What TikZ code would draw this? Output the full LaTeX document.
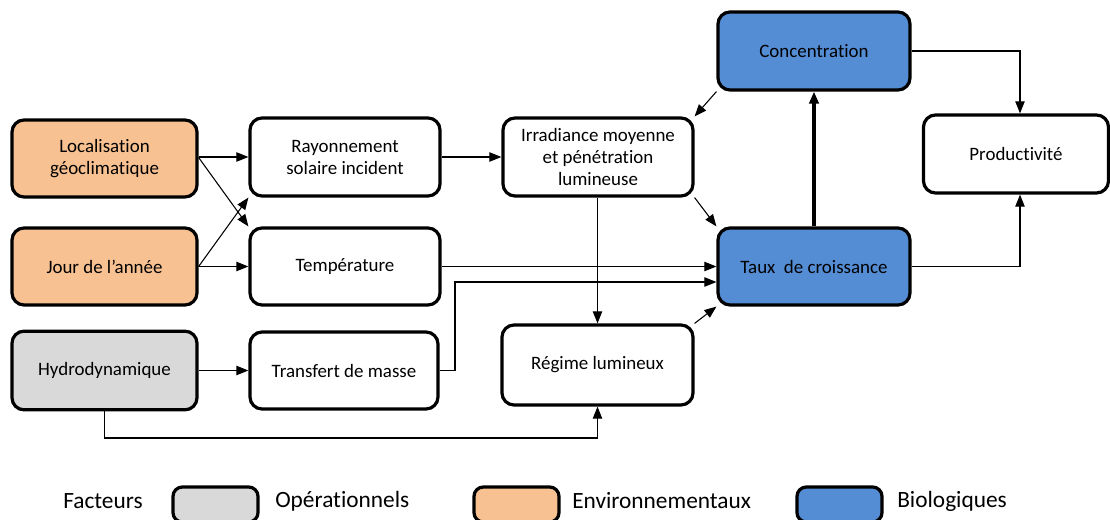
\documentclass[tikz,border=0pt]{standalone}
\usepackage{fontspec}
\setmainfont{Carlito}[Ligatures=NoCommon]
\usetikzlibrary{arrows.meta}
\definecolor{envc}{RGB}{248,193,145}
\definecolor{bioc}{RGB}{84,141,212}
\definecolor{opc}{RGB}{217,217,217}
\tikzset{
  box/.style={draw=black, line width=2.4pt, rounded corners=9pt, fill=white, align=center, font=\fontsize{14.2}{16.5}\selectfont, inner sep=0pt},
  conn/.style={line width=0.8pt, -{Triangle[length=9pt,width=7pt]}},
  thick conn/.style={line width=2.4pt, -{Triangle[length=9pt,width=7pt]}},
  legbox/.style={draw=black, line width=2.4pt, rounded corners=7pt},
  legtxt/.style={font=\fontsize{17.5}{20}\selectfont, anchor=west, inner sep=0pt}
}
\begin{document}
\begin{tikzpicture}[x=0.75pt,y=-0.75pt]
\useasboundingbox (0,0) rectangle (1110,520);
% boxes: minimum size given in px (0.75pt each)
\node[box, fill=envc, minimum width=138.75pt, minimum height=57.75pt] (loc) at (104.5,158.5) {Localisation\\géoclimatique};
\node[box, fill=envc, minimum width=138.75pt, minimum height=57.75pt] (jour) at (104.5,266.5) {Jour de l’année};
\node[box, fill=opc, minimum width=138.75pt, minimum height=59pt] (hyd) at (104.5,370.5) {Hydrodynamique};
\node[box, minimum width=142.5pt, minimum height=58.5pt] (ray) at (345,157) {Rayonnement\\solaire incident};
\node[box, minimum width=142.5pt, minimum height=57.75pt] (temp) at (345,266.5) {Température};
\node[box, minimum width=141pt, minimum height=57.75pt] (trans) at (344,370.5) {Transfert de masse};
\node[box, minimum width=142.5pt, minimum height=58.5pt] (irr) at (598,157) {Irradiance moyenne\\et pénétration\\lumineuse};
\node[box, minimum width=143.25pt, minimum height=60pt] (reg) at (597.5,365) {Régime lumineux};
\node[box, fill=bioc, minimum width=144pt, minimum height=58.5pt] (conc) at (814,51) {Concentration};
\node[box, fill=bioc, minimum width=144pt, minimum height=57.75pt] (taux) at (814,266.5) {Taux\ \ de croissance};
\node[box, minimum width=138.75pt, minimum height=58.5pt] (prod) at (1016,154) {Productivité};
% connectors
\draw[conn] (loc.east |- ray) -- (ray.west);
\draw[conn] (loc.east) ++(0,-1) coordinate (l1) (l1) -- (temp.north west);
\draw[conn] (jour.east) -- (ray.south west);
\draw[conn] (jour.east) -- (temp.west);
\draw[conn] (hyd.east) -- (trans.west);
\draw[conn] (ray.east) -- (irr.west);
\draw[conn] (temp.east) -- (taux.west);
\coordinate (tr1) at (455,370.5);
\coordinate (tr2) at (455,282);
\draw[conn] (trans.east) -- (tr1) -- (tr2) -- (taux.west |- tr2);
\draw[conn] (irr.south -| reg.north) -- (reg.north);
\coordinate (h1) at (104.5,438);
\draw[conn] (hyd.south) -- (h1) -- (h1 -| reg.south) -- (reg.south);
\draw[conn] (reg.north east) -- (taux.south west);
\draw[conn] (irr.south east) -- (taux.north west);
\draw[conn] (conc.south west) -- (irr.north east);
\draw[thick conn] (taux.north) -- (conc.south);
\coordinate (c1) at (1020,51);
\draw[conn] (conc.east) -- (c1) -- (c1 |- prod.north);
\coordinate (t1) at (1020,266.5);
\draw[conn] (taux.east) -- (t1) -- (t1 |- prod.south);
% legend
\node[legtxt] (fac) at (63,501) {Facteurs};
\draw[legbox, fill=opc] (173,487) rectangle (258,522);
\node[legtxt] (op) at (275,501) {Opérationnels};
\draw[legbox, fill=envc] (474,487) rectangle (559,522);
\node[legtxt] (env) at (572,501) {Environnementaux};
\draw[legbox, fill=bioc] (797,487) rectangle (882,522);
\node[legtxt] (bio) at (897,501) {Biologiques};
\end{tikzpicture}
\end{document}
